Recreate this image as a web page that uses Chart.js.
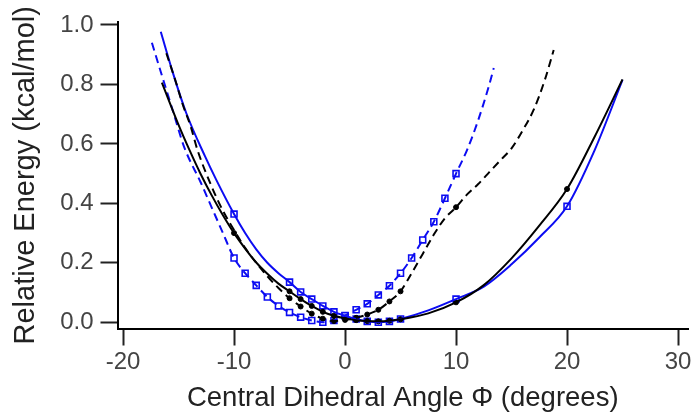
<!DOCTYPE html>
<html>
<head>
<meta charset="utf-8">
<script src="https://cdn.jsdelivr.net/npm/chart.js@4.4.1/dist/chart.umd.min.js"></script>
<style>
    html, body { margin: 0; padding: 0; background: #fff; }
    .chart-container { width: 696px; height: 412px; }
</style>
</head>
<body>
<div class="chart-container"><canvas id="chart"></canvas></div>
<script>
    // axis ticks
    const xTicks = [-20, -10, 0, 10, 20, 30];
    const yTicks = [0.0, 0.2, 0.4, 0.6, 0.8, 1.0];

    // black solid curve
    const blackSolidX = [-16.5, -15, -14, -13, -12, -11, -10, -9, -8, -7, -6, -5, -4, -3, -2, -1, 0, 1, 2, 3, 4, 5, 7.5, 10, 12.5, 15, 17.5, 20, 22.5, 25];
    const blackSolidY = [0.806, 0.664, 0.578, 0.498, 0.426, 0.36, 0.30, 0.248, 0.201, 0.163, 0.13, 0.104, 0.078, 0.055, 0.035, 0.022, 0.013, 0.007, 0.004, 0.003, 0.005, 0.01, 0.03, 0.067, 0.125, 0.215, 0.325, 0.448, 0.625, 0.817];
    // blue solid curve
    const blueSolidX = [-16.6, -15.5, -14.3, -12.6, -11.6, -10, -9, -8, -7, -6, -5, -4, -3, -2, -1, 0, 1, 2, 3, 4, 5, 7.5, 10, 12.5, 15, 17.5, 20, 22.5, 25];
    const blueSolidY = [0.977, 0.838, 0.703, 0.557, 0.479, 0.364, 0.30, 0.245, 0.20, 0.165, 0.135, 0.102, 0.078, 0.055, 0.035, 0.022, 0.011, 0.003, 0.0, 0.003, 0.011, 0.04, 0.078, 0.12, 0.195, 0.285, 0.39, 0.58, 0.815];
    // black dashed curve
    const blackDashX = [-16.1, -15.3, -14.6, -13.9, -13.3, -12, -11, -10, -9, -8, -7, -6, -5, -4, -3, -2, -1, 0, 1, 2, 3, 4, 5, 6, 7, 8, 9, 10, 11, 12, 13, 14, 15, 16, 17, 18, 18.8];
    const blackDashY = [0.905, 0.815, 0.73, 0.658, 0.58, 0.455, 0.375, 0.31, 0.25, 0.20, 0.155, 0.115, 0.081, 0.053, 0.029, 0.012, 0.004, 0.008, 0.015, 0.026, 0.042, 0.07, 0.104, 0.165, 0.23, 0.295, 0.35, 0.387, 0.43, 0.465, 0.505, 0.545, 0.585, 0.645, 0.715, 0.815, 0.916];
    // blue dashed curve
    const blueDashX = [-17.4, -16.5, -15.5, -14.5, -13, -12, -11, -10, -9, -8, -7, -6, -5, -4, -3, -2, -1, 0, 1, 2, 3, 4, 5, 6, 7, 8, 9, 10, 11, 12, 13, 13.4];
    const blueDashY = [0.94, 0.83, 0.71, 0.59, 0.47, 0.385, 0.30, 0.216, 0.165, 0.124, 0.085, 0.055, 0.033, 0.017, 0.006, 0.0, 0.006, 0.023, 0.042, 0.062, 0.092, 0.123, 0.165, 0.216, 0.277, 0.338, 0.417, 0.50, 0.58, 0.68, 0.80, 0.855];

    // marker positions
    const blackSolidMarkX = [-10, -5, -4, -3, -2, -1, 0, 1, 2, 3, 4, 5, 10, 20];
    const blueSolidMarkX = [-10, -5, -4, -3, -2, -1, 0, 1, 2, 3, 4, 5, 10, 20];
    const blackDashMarkX = [-5, -4, -3, -2, -1, 0, 1, 2, 3, 4, 5, 10];
    const blueDashMarkX = [-10, -9, -8, -7, -6, -5, -4, -3, -2, -1, 0, 1, 2, 3, 4, 5, 6, 7, 8, 9, 10];

    const BLUE = '#0c0cf2';
    const BLACK = '#000000';
    const FONT = 'Liberation Sans, Arial, sans-serif';

    const toPts = (xs, ys) => xs.map((x, i) => ({ x: x, y: ys[i] }));
    const pick = (xs, ys, marks) => marks.map(m => ({ x: m, y: ys[xs.indexOf(m)] }));

    const curve = (label, xs, ys, color, dash) => ({
        label: label,
        data: toPts(xs, ys),
        borderColor: color,
        borderWidth: 2,
        borderDash: dash,
        pointRadius: 0,
        cubicInterpolationMode: 'monotone',
        fill: false
    });
    const marks = (label, xs, ys, mx, color, style) => ({
        label: label,
        data: pick(xs, ys, mx),
        showLine: false,
        borderColor: color,
        backgroundColor: style === 'rect' ? '#ffffff' : color,
        borderWidth: style === 'rect' ? 1.6 : 1,
        pointStyle: style,
        pointRadius: style === 'rect' ? 4.2 : 2.5
    });

    const config = {
        type: 'line',
        data: {
            datasets: [
                curve('black solid', blackSolidX, blackSolidY, BLACK, []),
                curve('black dashed', blackDashX, blackDashY, BLACK, [8, 5]),
                curve('blue solid', blueSolidX, blueSolidY, BLUE, []),
                curve('blue dashed', blueDashX, blueDashY, BLUE, [8, 5]),
                marks('black solid pts', blackSolidX, blackSolidY, blackSolidMarkX, BLACK, 'circle'),
                marks('black dashed pts', blackDashX, blackDashY, blackDashMarkX, BLACK, 'circle'),
                marks('blue solid pts', blueSolidX, blueSolidY, blueSolidMarkX, BLUE, 'rect'),
                marks('blue dashed pts', blueDashX, blueDashY, blueDashMarkX, BLUE, 'rect')
            ]
        },
        options: {
            responsive: false,
            animation: false,
            devicePixelRatio: 1,
            layout: { padding: { left: 0, right: 8, top: 22, bottom: 0 } },
            plugins: { legend: { display: false }, tooltip: { enabled: false } },
            scales: {
                x: {
                    type: 'linear',
                    min: -20.5,
                    max: 30.9,
                    afterBuildTicks: (s) => { s.ticks = xTicks.map(v => ({ value: v })); },
                    afterFit: (s) => { s.height = 83.5; },
                    grid: { drawOnChartArea: false, drawTicks: true, tickLength: 17, tickWidth: 2, tickColor: '#222' },
                    border: { display: true, color: '#000', width: 2 },
                    ticks: { color: '#444', padding: 2, maxRotation: 0, font: { family: FONT, size: 24 } },
                    title: {
                        display: true,
                        text: 'Central Dihedral Angle \u03A6 (degrees)',
                        color: '#222',
                        font: { family: FONT, size: 27.5 },
                        padding: { top: 0, bottom: -3 }
                    }
                },
                y: {
                    type: 'linear',
                    min: -0.021,
                    max: 1.01,
                    afterBuildTicks: (s) => { s.ticks = yTicks.map(v => ({ value: v })); },
                    afterFit: (s) => { s.width = 117.5; },
                    grid: { drawOnChartArea: false, drawTicks: true, tickLength: 17, tickWidth: 2, tickColor: '#222' },
                    border: { display: true, color: '#000', width: 2 },
                    ticks: {
                        color: '#444',
                        padding: 7,
                        font: { family: FONT, size: 24 },
                        callback: (v) => Number(v).toFixed(1)
                    },
                    title: {
                        display: true,
                        text: 'Relative Energy (kcal/mol)',
                        color: '#222',
                        font: { family: FONT, size: 29 },
                        padding: { top: 8.5, bottom: 0 }
                    }
                }
            }
        }
    };

    const canvas = document.getElementById('chart');
    canvas.width = 696;
    canvas.height = 412;
    new Chart(canvas, config);
</script>
</body>
</html>
